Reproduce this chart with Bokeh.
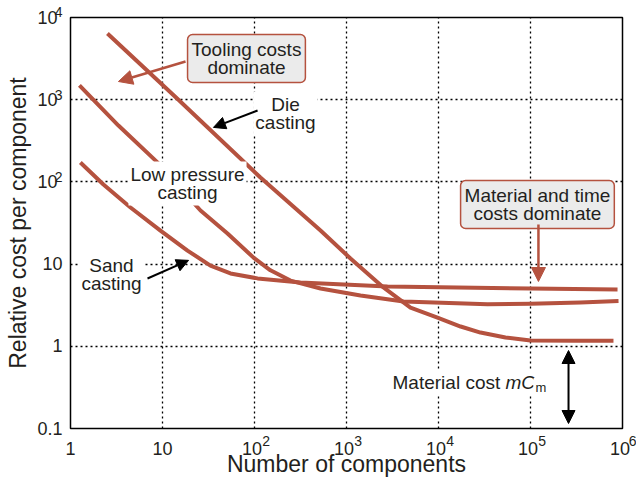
from bokeh.plotting import figure
from bokeh.models import (Range1d, FixedTicker, Label, Arrow, NormalHead, LogAxis)
from bokeh.embed import file_html
from bokeh.resources import INLINE

# ---- data ----
die_n = [2.52, 14.9, 116, 522, 1105, 2520, 4960, 9750, 17400, 28600, 53500, 1.0e5, 3.0e5, 7.98e5]
die_c = [6380, 1000, 113, 25.6, 11.7, 5.2, 2.96, 2.24, 1.74, 1.47, 1.28, 1.18, 1.17, 1.17]

lp_n = [1.25, 3.32, 9.05, 15.7, 25.9, 50.9, 97.5, 149, 246, 522, 1420, 4170, 34100, 1.0e5, 3.49e5, 9.05e5]
lp_c = [1490, 485, 168, 83, 44.9, 23.6, 12.0, 8.4, 6.3, 5.05, 4.15, 3.5, 3.25, 3.3, 3.41, 3.55]

sand_n = [1.28, 2.28, 4.49, 9.5, 18.7, 33.2, 54.8, 108, 316, 2790, 1.0e5, 8.83e5]
sand_c = [172, 93, 48.8, 25.6, 14.6, 9.6, 7.7, 6.7, 5.97, 5.33, 5.05, 4.91]

NB = "\u00a0"
x_ticks = [1, 10, 100, 1000, 10000, 100000, 1000000]
x_tick_labels = ["1", "10", "10" + NB, "10" + NB, "10" + NB, "10" + NB, "10" + NB]
x_tick_exponents = ["", "", "2", "3", "4", "5", "6"]
y_ticks = [0.1, 1, 10, 100, 1000, 10000]
y_tick_labels = ["0.1", "1", "10", "10" + NB, "10" + NB, "10" + NB]
y_tick_exponents = ["", "", "", "2", "3", "4"]

CURVE = "#b5523f"
TEXT = "#231f20"
FONT = "Liberation Sans"

p = figure(width=636, height=479, x_axis_type="log", y_axis_type="log",
           x_range=Range1d(1, 1e6), y_range=Range1d(0.1, 1e4),
           output_backend="svg", toolbar_location=None,
           min_border_left=70, min_border_right=14, min_border_top=17, min_border_bottom=51)

p.outline_line_color = "black"
p.outline_line_width = 1.5


def style_axis(ax, ticks, labels, size):
    ax.ticker = FixedTicker(ticks=ticks)
    ax.major_label_overrides = {t: l for t, l in zip(ticks, labels)}
    ax.axis_line_color = None
    ax.major_tick_line_color = None
    ax.minor_tick_line_color = None
    ax.major_tick_out = 0
    ax.major_tick_in = 0
    ax.major_label_text_font = FONT
    ax.major_label_text_font_size = size
    ax.major_label_text_color = TEXT
    ax.axis_label_text_font = FONT
    ax.axis_label_text_font_size = "23px"
    ax.axis_label_text_font_style = "normal"
    ax.axis_label_text_color = TEXT


main_x = p.xaxis[0]
main_y = p.yaxis[0]
style_axis(main_x, x_ticks, x_tick_labels, "18px")
style_axis(main_y, y_ticks, y_tick_labels, "18px")
main_x.axis_label = "Number of components"
main_y.axis_label = "Relative cost per component"

# exponent axes (superscripts of the tick labels), nearest to the frame
exp_x = LogAxis()
style_axis(exp_x, x_ticks, [(NB * 6 + e) if e else "" for e in x_tick_exponents], "14px")
exp_y = LogAxis()
style_axis(exp_y, y_ticks, [(e + "\n") if e else "" for e in y_tick_exponents], "14px")
exp_y.major_label_text_line_height = 0.65

exp_x.major_label_standoff = 4
main_x.major_label_standoff = -13
main_x.axis_label_standoff = -11
exp_y.major_label_standoff = 8
main_y.major_label_standoff = -11
main_y.axis_label_standoff = 3

p.below = [exp_x] + list(p.below)
p.left = [exp_y] + list(p.left)

p.xgrid.ticker = FixedTicker(ticks=x_ticks[1:-1])
p.ygrid.ticker = FixedTicker(ticks=y_ticks[1:-1])
for g in (p.xgrid, p.ygrid):
    g.grid_line_color = "black"
    g.grid_line_dash = "2 3"
    g.grid_line_width = 1.3

for xs, ys in ((die_n, die_c), (lp_n, lp_c), (sand_n, sand_c)):
    p.line(xs, ys, line_color=CURVE, line_width=4, line_join="round", line_cap="butt")


def label(x, y, text, bg="white", border=None, pad=2, align="center", size="19px", style="normal"):
    lab = Label(x=x, y=y, text=text, text_align=align, text_baseline="middle",
                text_font=FONT, text_font_size=size, text_color=TEXT, text_font_style=style,
                text_line_height=0.9,
                background_fill_color=bg, padding=pad)
    if border:
        lab.border_line_color = border
        lab.border_line_width = 1.5
        lab.border_radius = 5
    p.add_layout(lab)
    return lab


def arrow(x0, y0, x1, y1, color, both=False, width=2, size=13):
    head = NormalHead(size=size, fill_color=color, line_color=color)
    kw = dict(x_start=x0, y_start=y0, x_end=x1, y_end=y1, line_color=color,
              line_width=width, end=head)
    if both:
        kw["start"] = NormalHead(size=size, fill_color=color, line_color=color)
    p.add_layout(Arrow(**kw))


# annotations (data coordinates)
label(81.8, 3170, "Tooling costs\ndominate", bg="#ebebeb", border=CURVE, pad=4)
arrow(17.8, 2920, 3.32, 1664, CURVE, width=2.5, size=14)

label(217, 680, "Die\ncasting")
arrow(108, 740, 35.8, 460, "black", size=12)

label(18.7, 95.5, "Low pressure\ncasting")

label(2.79, 7.47, "Sand\ncasting")
arrow(6.87, 6.68, 19.2, 11.1, "black", size=12)

label(119000, 53.1, "Material and time\ncosts dominate", bg="#ebebeb", border=CURVE, pad=4)
arrow(122000, 30.3, 122000, 6.14, CURVE, width=2.5, size=14)

# Material cost mC_m
label(3010, 0.363, "Material cost ", align="left")
mc = label(3010, 0.363, "mC", align="left", style="italic")
mc.x_offset = 113
sub = label(3010, 0.363, "m", align="left", size="13px")
sub.x_offset = 143
sub.y_offset = -5
arrow(259000, 0.889, 259000, 0.115, "black", both=True, size=13)

open("out.html", "w").write(file_html(p, INLINE))
